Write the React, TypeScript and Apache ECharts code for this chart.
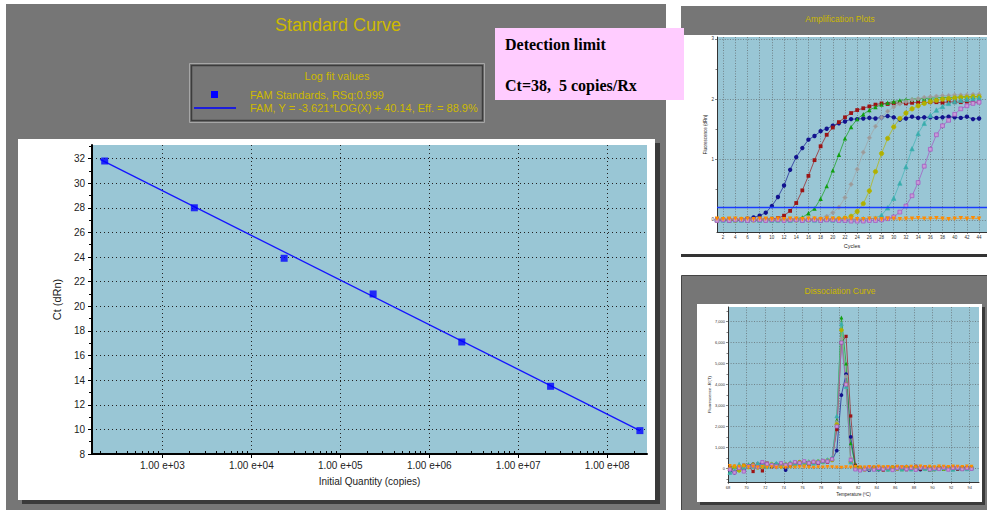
import React, { useEffect, useRef } from "react";
import * as echarts from "echarts";

// ---------- Standard curve data ----------
const stdQuantities = [225, 2290, 23400, 234000, 2320000, 23100000, 233000000];
const stdCt = [31.8, 28.0, 23.9, 21.0, 17.1, 13.5, 9.9];
const fitQuantities = [200, 233000000];
const fitCt = [31.93, 9.9];
const decadeTicks = [1e3, 1e4, 1e5, 1e6, 1e7, 1e8];
const ctTicks = [8, 10, 12, 14, 16, 18, 20, 22, 24, 26, 28, 30, 32];
const ctMinorTicks = [9, 11, 13, 15, 17, 19, 21, 23, 25, 27, 29, 31, 33];
const fitSlope = "-3.621";
const fitIntercept = "40.14";
const fitEff = "88.9%";
const fitRSq = "0.999";
const detectCt = 38;
const detectCopies = 5;

// ---------- Amplification plot data ----------
const cycles = [1,2,3,4,5,6,7,8,9,10,11,12,13,14,15,16,17,18,19,20,21,22,23,24,25,26,27,28,29,30,31,32,33,34,35,36,37,38,39,40,41,42,43,44];
const ampBlue = [0.01,0.00,-0.01,0.00,0.01,0.02,0.04,0.07,0.12,0.23, 0.38,0.57,0.83,1.04,1.19,1.33,1.39,1.47,1.51,1.56, 1.60,1.63,1.67,1.67,1.68,1.69,1.68,1.70,1.72,1.70, 1.66,1.68,1.71,1.69,1.70,1.70,1.69,1.70,1.71,1.70, 1.69,1.71,1.67,1.68];
const ampRed = [0.01,0.00,0.01,0.00,0.00,0.01,0.00,0.01,0.01,0.02, 0.03,0.07,0.15,0.28,0.49,0.73,0.99,1.22,1.41,1.53, 1.62,1.70,1.77,1.82,1.85,1.88,1.91,1.93,1.92,1.93, 1.94,1.93,1.94,1.95,1.94,1.95,1.95,1.94,1.96,1.95, 1.95,1.96,1.95,1.95];
const ampGreen = [0.00,0.01,0.00,0.00,0.01,0.00,0.01,0.00,0.01,0.00, 0.01,0.01,0.00,0.02,0.04,0.11,0.19,0.35,0.56,0.82, 1.08,1.35,1.54,1.67,1.75,1.82,1.87,1.91,1.94,1.96, 1.98,1.99,2.00,2.01,2.01,2.02,2.02,2.03,2.03,2.03, 2.04,2.04,2.04,2.05];
const ampGray = [0.01,0.00,0.00,0.01,0.00,0.01,0.00,0.01,0.00,0.01, 0.00,0.01,0.01,0.00,0.01,0.01,0.02,0.03,0.06,0.12, 0.21,0.37,0.59,0.84,1.12,1.36,1.55,1.70,1.80,1.87, 1.92,1.96,1.99,2.01,2.03,2.04,2.05,2.06,2.06,2.07, 2.07,2.07,2.08,2.08];
const ampOlive = [0.00,0.01,0.00,0.00,0.01,0.00,0.00,0.01,0.00,0.01, 0.00,0.00,0.01,0.00,0.01,0.00,0.01,0.00,0.01,0.01, 0.02,0.03,0.06,0.14,0.27,0.48,0.80,1.10,1.35,1.54, 1.68,1.77,1.84,1.89,1.93,1.96,1.98,2.00,2.01,2.02, 2.03,2.03,2.04,2.04];
const ampTeal = [0.01,0.00,0.00,0.01,0.00,0.00,0.01,0.00,0.01,0.00, 0.00,0.01,0.00,0.01,0.00,0.01,0.00,0.00,0.01,0.00, 0.01,0.00,0.01,0.01,0.02,0.02,0.03,0.08,0.20,0.36, 0.61,0.88,1.18,1.43,1.60,1.73,1.82,1.88,1.93,1.96, 1.98,2.00,2.01,2.02];
const ampPurple = [-0.01,0.00,-0.01,0.00,0.00,-0.01,0.00,0.00,-0.01,0.00, 0.00,-0.01,0.00,0.00,-0.01,0.00,0.00,-0.01,0.00,0.00, -0.01,-0.01,-0.02,-0.02,-0.02,-0.01,-0.01,0.00,0.02,0.05, 0.13,0.23,0.40,0.62,0.89,1.17,1.41,1.56,1.65,1.75, 1.84,1.89,1.93,1.95];
const ampOrange = [0.02,0.01,0.02,0.02,0.01,0.02,0.01,0.02,0.02,0.01, 0.02,0.01,0.02,0.02,0.01,0.02,0.02,0.01,0.02,0.02, 0.01,0.02,0.02,0.01,0.01,0.02,0.02,0.01,0.02,0.02, 0.01,0.02,0.02,0.03,0.02,0.02,0.03,0.02,0.01,0.02, 0.03,0.02,0.03,0.02];
const threshold = 0.205;
const thresholdCycles = [1, 46];
const ampXTicks = [2,4,6,8,10,12,14,16,18,20,22,24,26,28,30,32,34,36,38,40,42,44,46];
const ampYTicks = [0, 1, 2, 3];
const ampYMinor = [0.5, 1.5, 2.5];

// ---------- Dissociation curve data ----------
const temps = [68.2,68.7,69.2,69.7,70.2,70.7,71.2,71.7,72.2,72.7,73.2,73.7,74.2,74.7,75.2,75.7,76.2,76.7,77.2,77.7,78.2,78.7,79.2,79.7,80.2,80.7,81.2,81.7,82.2,82.7,83.2,83.7,84.2,84.7,85.2,85.7,86.2,86.7,87.2,87.7,88.2,88.7,89.2,89.7,90.2,90.7,91.2,91.7,92.2,92.7,93.2,93.7,94.2];
const dsBlue = [-100,-200,50,-50,120,200,150,250,100,180, 200,120,-80,150,200,250,300,200,280,250, 300,350,400,850,3500,4500,1500,80,-50,0, -80,40,-60,20,-40,60,-30,30,80,-20, 40,-60,60,20,-40,30,50,-20,40,-30, 20,50,10];
const dsRed = [50,-150,-50,150,100,-150,200,-120,250,80, 150,200,100,200,250,300,220,180,300,260, 350,300,450,1850,6000,6300,2500,150,30,-60, 40,-20,60,-80,20,-40,50,0,-60,30, 100,-30,50,20,-50,40,-20,30,60,-40, 20,0,40];
const dsGreen = [-150,100,-80,50,200,150,100,200,150,120, 180,250,200,150,250,220,300,350,250,300, 380,350,500,2300,7200,5000,1200,150,40,-30, 20,50,-40,0,60,-20,30,-50,10,70, -30,40,0,-60,30,20,-20,50,-10,30, -40,20,60];
const dsGray = [-80,-150,60,0,100,50,180,150,220,120, 100,150,230,180,280,250,200,300,350,280, 320,400,420,2200,6200,4400,500,60,-20,40, -50,10,30,-30,60,20,-40,40,0,-20, 50,30,-40,10,60,-10,20,-30,40,10, -20,30,0];
const dsOlive = [0,80,-100,120,60,180,40,100,130,200, 160,90,180,230,160,300,260,230,280,330, 300,380,400,2100,6600,4000,300,40,0,-40, 30,-20,50,10,-50,40,-10,20,60,-30, 0,40,-20,30,-40,50,0,20,-30,40, 10,-10,30];
const dsTeal = [-200,-100,200,50,150,100,250,180,80,200, 250,180,200,280,220,260,310,270,240,350, 330,420,480,2500,6900,3900,300,20,-60,10, 40,-30,0,50,-50,20,40,-20,30,-40, 10,60,-10,40,-30,0,30,50,-50,20, 40,-20,10];
const dsPurple = [-50,-200,20,-150,100,130,60,300,200,150, 100,250,150,200,300,260,340,250,310,280, 360,330,440,2000,6000,4000,400,-50,-100,-40, 50,-60,20,-30,40,-80,10,60,-40,20, -70,30,50,-50,0,-30,40,-60,20,30, -40,10,-20];
const dsOrange = [120,100,80,100,60,80,50,70,40,60, 30,50,40,60,50,70,60,50,40,60, 50,70,60,50,40,60,50,70,60,50, 70,60,80,60,70,50,80,60,70,80, 60,90,70,80,60,90,80,70,90,80, 70,90,80];
const dsXTicks = [68,70,72,74,76,78,80,82,84,86,88,90,92,94];
const dsYTicks = [0,1000,2000,3000,4000,5000,6000,7000];
const dsYMinor = [-500,500,1500,2500,3500,4500,5500,6500,7500];

// ---------- styles ----------
const SANS = "'Liberation Sans', Arial, sans-serif";
const SERIF = "'Liberation Serif', 'Times New Roman', serif";
const GOLD = "#cdb900";
const PANEL = "#767676";
const PLOT_BG = "#99c6d5";
const wellStyles = [
  { color: "#12128e", fill: "#12128e", symbol: "circle", rotate: 0 },
  { color: "#9c1414", fill: "#9c1414", symbol: "rect", rotate: 0 },
  { color: "#10a010", fill: "#10a010", symbol: "triangle", rotate: 0 },
  { color: "#a3a3a3", fill: "#9a9a9a", symbol: "diamond", rotate: 0 },
  { color: "#b5b500", fill: "#b0b000", symbol: "circle", rotate: 0 },
  { color: "#3fb3b3", fill: "#3aaaaa", symbol: "triangle", rotate: 0 },
  { color: "#a452c2", fill: "#c79ad6", symbol: "rect", rotate: 0 },
  { color: "#ff8c00", fill: "#ff8c00", symbol: "triangle", rotate: 180 },
];
const ampSets = [ampBlue, ampRed, ampGreen, ampGray, ampOlive, ampTeal, ampPurple, ampOrange];
const dsSets = [dsBlue, dsRed, dsGreen, dsGray, dsOlive, dsTeal, dsPurple, dsOrange];

const zip = (xs: number[], ys: number[]) => xs.map((x, i) => [x, ys[i]]);
const dotted = (color: string, width: number, dash: number[]) => ({ show: true, lineStyle: { color, width, type: dash } });

function buildOption(): any {
  const expLabel = (v: number) => {
    const e = Math.round(Math.log10(v));
    return "1.00 e+" + (e < 10 ? "0" + e : String(e));
  };
  const minorDecade: number[] = [];
  for (let e = 2; e <= 8; e++) for (let m = 2; m <= 9; m++) minorDecade.push(m * Math.pow(10, e));

  const wellSeries = (sets: number[][], xs: number[], xi: number, yi: number, size: number) =>
    sets.map((vals, i) => ({
      type: "line",
      xAxisIndex: xi,
      yAxisIndex: yi,
      data: zip(xs, vals),
      symbol: wellStyles[i].symbol,
      symbolRotate: wellStyles[i].rotate,
      symbolSize: wellStyles[i].symbol === "rect" ? size - 0.6 : size,
      itemStyle: {
        color: wellStyles[i].fill,
        borderColor: wellStyles[i].color,
        borderWidth: wellStyles[i].fill !== wellStyles[i].color ? 0.7 : 0,
      },
      lineStyle: { color: wellStyles[i].color, width: 0.8, opacity: 0.85 },
      z: 3,
    }));

  const smallAxisName = (size: number) => ({ fontSize: size, color: "#222", fontFamily: SANS });

  return {
    animation: false,
    backgroundColor: "#ffffff",
    grid: [
      { left: 92, top: 145, width: 555, height: 309, show: true, backgroundColor: PLOT_BG, borderWidth: 0 },
      { left: 717, top: 37, width: 280, height: 195, show: true, backgroundColor: PLOT_BG, borderWidth: 0 },
      { left: 728, top: 307, width: 251, height: 175, show: true, backgroundColor: PLOT_BG, borderWidth: 0 },
    ],
    xAxis: [
      {
        type: "log", logBase: 10, gridIndex: 0, position: "bottom", min: 162, max: 2.8e8,
        axisLine: { show: true, onZero: false, lineStyle: { color: "#000", width: 2 } },
        axisTick: { show: true, customValues: decadeTicks, length: 4, lineStyle: { color: "#000" } },
        axisLabel: { customValues: decadeTicks, formatter: expLabel, fontSize: 10, color: "#222", margin: 6, fontFamily: SANS },
        splitLine: dotted("#222", 1, [1, 3]),
        minorTick: { show: false }, minorSplitLine: { show: false },
        name: "Initial Quantity (copies)", nameLocation: "middle", nameGap: 22,
        nameTextStyle: { fontSize: 10, color: "#222", fontFamily: SANS },
      },
      {
        type: "log", logBase: 10, gridIndex: 0, position: "bottom", min: 162, max: 2.8e8,
        axisLine: { show: false, onZero: false },
        axisTick: { show: true, inside: true, customValues: minorDecade, length: 3, lineStyle: { color: "#000" } },
        axisLabel: { show: false }, splitLine: { show: false },
      },
      {
        type: "value", gridIndex: 1, position: "bottom", min: 1, max: 45.3,
        axisLine: { show: true, onZero: false, lineStyle: { color: "#333", width: 1 } },
        axisTick: { show: true, customValues: ampXTicks, length: 2, lineStyle: { color: "#333", width: 0.6 } },
        axisLabel: { customValues: ampXTicks, fontSize: 4.5, color: "#333", margin: 3, fontFamily: SANS },
        splitLine: dotted("#555", 0.6, [1, 1.6]),
        name: "Cycles", nameLocation: "middle", nameGap: 11, nameTextStyle: smallAxisName(5.5),
      },
      {
        type: "value", gridIndex: 2, position: "bottom", min: 68, max: 95,
        axisLine: { show: true, onZero: false, lineStyle: { color: "#333", width: 1 } },
        axisTick: { show: true, customValues: dsXTicks, length: 2, lineStyle: { color: "#333", width: 0.6 } },
        axisLabel: { customValues: dsXTicks, fontSize: 4, color: "#333", margin: 3, fontFamily: SANS },
        splitLine: dotted("#555", 0.6, [1, 1.6]),
        name: "Temperature (ºC)", nameLocation: "middle", nameGap: 10, nameTextStyle: smallAxisName(4.5),
      },
    ],
    yAxis: [
      {
        type: "value", gridIndex: 0, position: "left", min: 8, max: 33.1,
        axisLine: { show: true, onZero: false, lineStyle: { color: "#000", width: 2 } },
        axisTick: { show: true, customValues: ctTicks, length: 4, lineStyle: { color: "#000" } },
        axisLabel: { customValues: ctTicks, fontSize: 10, color: "#222", margin: 7, fontFamily: SANS },
        splitLine: dotted("#222", 1, [1, 3]),
        name: "Ct (dRn)", nameLocation: "middle", nameGap: 20,
        nameTextStyle: { fontSize: 11, color: "#222", fontFamily: SANS },
      },
      {
        type: "value", gridIndex: 0, position: "left", min: 8, max: 33.1,
        axisLine: { show: false, onZero: false },
        axisTick: { show: true, customValues: ctMinorTicks, length: 3, lineStyle: { color: "#000" } },
        axisLabel: { show: false }, splitLine: { show: false },
      },
      {
        type: "value", gridIndex: 1, position: "left", min: -0.2, max: 3.03,
        axisLine: { show: true, onZero: false, lineStyle: { color: "#333", width: 1 } },
        axisTick: { show: true, customValues: ampYTicks, length: 2, lineStyle: { color: "#333", width: 0.6 } },
        axisLabel: { customValues: ampYTicks, fontSize: 4.5, color: "#333", margin: 3, fontFamily: SANS },
        splitLine: dotted("#555", 0.6, [1, 1.6]),
        name: "Fluorescence (dRn)", nameLocation: "middle", nameGap: 8, nameTextStyle: smallAxisName(4.5),
      },
      {
        type: "value", gridIndex: 1, position: "left", min: -0.2, max: 3.03,
        axisLine: { show: false, onZero: false },
        axisTick: { show: true, customValues: ampYMinor, length: 1.5, lineStyle: { color: "#333", width: 0.6 } },
        axisLabel: { show: false }, splitLine: { show: false },
      },
      {
        type: "value", gridIndex: 2, position: "left", min: -650, max: 7700,
        axisLine: { show: true, onZero: false, lineStyle: { color: "#333", width: 1 } },
        axisTick: { show: true, customValues: dsYTicks, length: 2, lineStyle: { color: "#333", width: 0.6 } },
        axisLabel: { customValues: dsYTicks, fontSize: 4, color: "#333", margin: 3, fontFamily: SANS },
        splitLine: dotted("#555", 0.6, [1, 1.6]),
        name: "Fluorescence -R'(T)", nameLocation: "middle", nameGap: 12, nameTextStyle: smallAxisName(4.2),
      },
      {
        type: "value", gridIndex: 2, position: "left", min: -650, max: 7700,
        axisLine: { show: false, onZero: false },
        axisTick: { show: true, customValues: dsYMinor, length: 1.5, lineStyle: { color: "#333", width: 0.6 } },
        axisLabel: { show: false }, splitLine: { show: false },
      },
    ],
    series: [
      {
        type: "line", xAxisIndex: 0, yAxisIndex: 0, data: zip(fitQuantities, fitCt),
        symbol: "none", lineStyle: { color: "#1414ff", width: 1.3 }, z: 3,
      },
      {
        type: "scatter", xAxisIndex: 0, yAxisIndex: 0, data: zip(stdQuantities, stdCt),
        symbol: "rect", symbolSize: 7, itemStyle: { color: "#0000ff" }, z: 4,
      },
      ...wellSeries(ampSets, cycles, 2, 2, 4.4),
      {
        type: "line", xAxisIndex: 2, yAxisIndex: 2,
        data: thresholdCycles.map((c) => [c, threshold]),
        symbol: "none", lineStyle: { color: "#1a3cff", width: 1.4 }, z: 4,
      },
      ...wellSeries(dsSets, temps, 3, 4, 3.8),
    ],
    graphic: {
      elements: [
        // main panel
        { type: "rect", z: -10, shape: { x: 6, y: 4, width: 660, height: 506 }, style: { fill: PANEL } },
        { type: "rect", z: -9, shape: { x: 22, y: 143, width: 638, height: 361 }, style: { fill: "#3a3a3a" } },
        { type: "rect", z: -8, shape: { x: 18, y: 139, width: 637, height: 361 }, style: { fill: "#ffffff" } },
        {
          type: "text", z: 20, x: 338, y: 25,
          style: { text: "Standard Curve", fill: GOLD, font: `18px ${SANS}`, align: "center", verticalAlign: "middle", textAlign: "center", textVerticalAlign: "middle" },
        },
        // legend box
        { type: "rect", z: 20, shape: { x: 189.5, y: 63.5, width: 295, height: 59 }, style: { fill: "none", stroke: "#a6a6a6", lineWidth: 1 } },
        { type: "rect", z: 20, shape: { x: 191.5, y: 65.5, width: 291, height: 55 }, style: { fill: "none", stroke: "#3c3c3c", lineWidth: 1.5 } },
        {
          type: "text", z: 21, x: 337, y: 76,
          style: { text: "Log fit values", fill: GOLD, font: `11px ${SANS}`, align: "center", verticalAlign: "middle", textAlign: "center", textVerticalAlign: "middle" },
        },
        { type: "rect", z: 21, shape: { x: 211, y: 91, width: 7, height: 7 }, style: { fill: "#0000ff" } },
        { type: "line", z: 21, shape: { x1: 194, y1: 108, x2: 236, y2: 108 }, style: { stroke: "#0000ff", lineWidth: 1.5 } },
        {
          type: "text", z: 21, x: 250, y: 95,
          style: { text: `FAM Standards, RSq:${fitRSq}`, fill: GOLD, font: `11px ${SANS}`, align: "left", verticalAlign: "middle", textAlign: "left", textVerticalAlign: "middle" },
        },
        {
          type: "text", z: 21, x: 250, y: 108,
          style: { text: `FAM, Y = ${fitSlope}*LOG(X) + ${fitIntercept}, Eff. = ${fitEff}`, fill: GOLD, font: `11px ${SANS}`, align: "left", verticalAlign: "middle", textAlign: "left", textVerticalAlign: "middle" },
        },
        // amplification panel frame
        { type: "rect", z: -10, shape: { x: 681, y: 6, width: 306, height: 29 }, style: { fill: PANEL } },
        {
          type: "text", z: 20, x: 840, y: 19,
          style: { text: "Amplification Plots", fill: GOLD, font: `8.5px ${SANS}`, align: "center", verticalAlign: "middle", textAlign: "center", textVerticalAlign: "middle" },
        },
        { type: "rect", z: -10, shape: { x: 681, y: 254, width: 306, height: 3 }, style: { fill: "#333333" } },
        // dissociation panel frame
        { type: "rect", z: -10, shape: { x: 681.5, y: 275.5, width: 310, height: 240 }, style: { fill: PANEL, stroke: "#444", lineWidth: 1 } },
        { type: "rect", z: -9, shape: { x: 700, y: 307, width: 285, height: 198 }, style: { fill: "#3a3a3a" } },
        { type: "rect", z: -8, shape: { x: 697, y: 304, width: 285, height: 198 }, style: { fill: "#ffffff" } },
        {
          type: "text", z: 20, x: 840, y: 291,
          style: { text: "Dissociation Curve", fill: GOLD, font: `8.5px ${SANS}`, align: "center", verticalAlign: "middle", textAlign: "center", textVerticalAlign: "middle" },
        },
        // detection limit note
        { type: "rect", z: 50, shape: { x: 495, y: 28, width: 189, height: 72 }, style: { fill: "#ffccff" } },
        {
          type: "text", z: 51, x: 505, y: 44,
          style: { text: "Detection limit", fill: "#000", font: `bold 16px ${SERIF}`, align: "left", verticalAlign: "middle", textAlign: "left", textVerticalAlign: "middle" },
        },
        {
          type: "text", z: 51, x: 505, y: 85,
          style: { text: `Ct=${detectCt},  ${detectCopies} copies/Rx`, fill: "#000", font: `bold 16px ${SERIF}`, align: "left", verticalAlign: "middle", textAlign: "left", textVerticalAlign: "middle" },
        },
      ],
    },
  };
}

export default function App() {
  const ref = useRef<HTMLDivElement>(null);
  useEffect(() => {
    if (!ref.current) return;
    const chart = echarts.init(ref.current, undefined, { renderer: "svg" });
    chart.setOption(buildOption());
    return () => chart.dispose();
  }, []);
  return (
    <div
      ref={ref}
      style={{ position: "fixed", left: 0, top: 0, width: 987, height: 510, background: "#ffffff", overflow: "hidden" }}
    />
  );
}
